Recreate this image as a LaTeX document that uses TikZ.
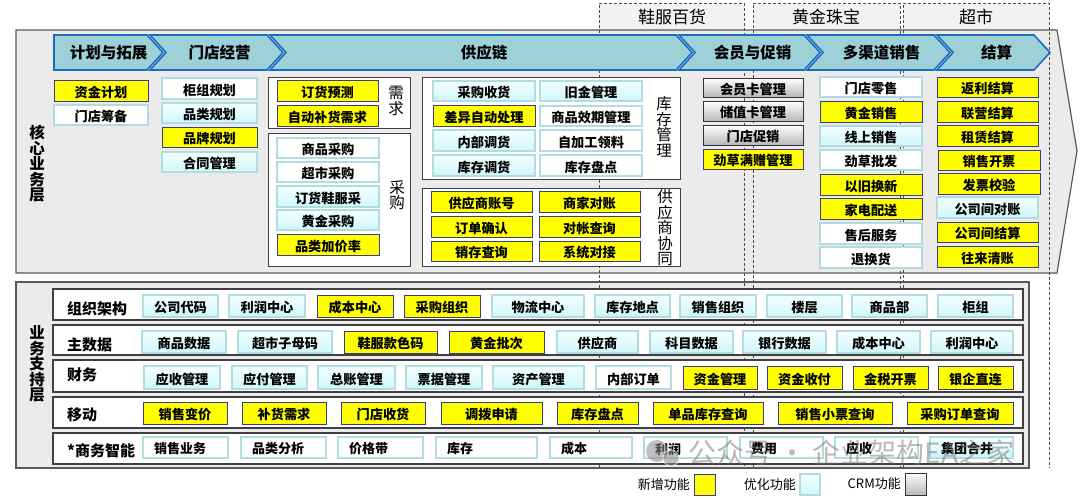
\documentclass[tikz,border=0pt]{standalone}
\usepackage{fontspec}
\setmainfont{Noto Sans CJK SC}
\usetikzlibrary{shadows}
\definecolor{newY}{HTML}{FFFF00}
\definecolor{newB}{HTML}{3A3A8C}
\definecolor{optB}{HTML}{B0DCE2}
\definecolor{optT}{HTML}{F4FFFF}
\definecolor{optBot}{HTML}{D0F6FA}
\definecolor{chevF}{HTML}{9ED1D7}
\definecolor{chevB}{HTML}{1C6CC0}
\definecolor{layerF}{HTML}{EBEBEB}
\definecolor{hdrF}{HTML}{F2F2F2}
\tikzset{
 base/.style={inner sep=0pt, outer sep=0pt, font=\fontsize{13.2}{14}\selectfont\bfseries,
   text height=13pt, text depth=0pt,
   drop shadow={shadow xshift=1pt,shadow yshift=-1pt,opacity=0.35}},
 newf/.style={base, fill=newY, draw=newB, line width=1pt},
 optf/.style={base, top color=optT, bottom color=optBot, draw=optB, line width=1.6pt},
 plainf/.style={base, fill=white, draw=optB, line width=1.6pt},
 bif/.style={inner sep=0pt, outer sep=0pt, fill=white, draw=optB, line width=1.8pt},
 bioptf/.style={inner sep=0pt, outer sep=0pt, top color=optT, bottom color=optBot, draw=optB, line width=1.8pt},
 crmf/.style={base, top color=white, bottom color=black!28, draw=black!80, line width=1pt},
 grp/.style={inner sep=0pt, outer sep=0pt, draw=black!75, fill=white, line width=1pt},
 rowbox/.style={inner sep=0pt, outer sep=0pt, draw=black!75, fill=white, line width=1.3pt,
   drop shadow={shadow xshift=1pt,shadow yshift=-1pt,opacity=0.3}},
 grplabel/.style={font=\fontsize{15.5}{15.5}\selectfont, align=center, inner sep=0pt},
 layerlabel/.style={font=\fontsize{15.5}{15.5}\selectfont\bfseries, align=center, inner sep=0pt},
 rowlabel/.style={font=\fontsize{15}{15}\selectfont\bfseries, inner sep=0pt, anchor=west},
 bitext/.style={font=\fontsize{13}{14}\selectfont\bfseries, inner sep=0pt, anchor=west},
 chev/.style={fill=chevF, draw=chevB, line width=1.6pt, line join=miter},
 chevtext/.style={font=\fontsize{15.5}{16}\selectfont\bfseries, inner sep=0pt},
 hdrtext/.style={font=\fontsize{17}{18}\selectfont, inner sep=0pt},
 dashline/.style={draw=black!70, line width=0.7pt, dash pattern=on 3pt off 2pt},
 legtext/.style={font=\fontsize{13}{14}\selectfont, inner sep=0pt, anchor=east},
 layer/.style={fill=layerF, draw=black!65, line width=1.2pt}
}
\newcommand\bx[7]{\node[#2, minimum width={(#5-#3)*1pt}, minimum height={(#6-#4)*1pt}] (#1) at ({(#3+#5)/2},{(#4+#6)/2}) {#7};}
\newcommand\bxl[7]{\node[#2, minimum width={(#5-#3)*1pt}, minimum height={(#6-#4)*1pt}] (#1) at ({(#3+#5)/2},{(#4+#6)/2}) {};
 \node[bitext] (#1t) at ([xshift=11pt,yshift=-1.5pt]#1.west) {#7};}
\newcommand\chevA[4]{\draw[chev] (#2,35) -- ({#3-16},35) -- (#3,52.5) -- ({#3-16},70) -- (#2,70) -- cycle;
 \node[chevtext] (#1) at ({(#2+#3)/2},52.5) {#4};}
\newcommand\chevB[4]{\draw[chev] (#2,35) -- ({#3-16},35) -- (#3,52.5) -- ({#3-16},70) -- (#2,70) -- ({#2+16},52.5) -- cycle;
 \node[chevtext] (#1) at ({(#2+#3)/2+3},52.5) {#4};}
\begin{document}
\begin{tikzpicture}[x=1pt,y=-1pt]
\useasboundingbox (0,0) rectangle (1080,499);
% header column boxes
\fill[hdrF] (599,3) rectangle (744,30);
\fill[hdrF] (753,3) rectangle (900,30);
\fill[hdrF] (903,3) rectangle (1049,30);
% layers
\draw[layer] (16,30) -- (1057,30) -- (1077,151) -- (1057,273) -- (16,273) -- cycle;
\draw[layer] (16,282) rectangle (1029,468);
% dashed columns
\draw[dashline] (599,468) -- (599,3) -- (744,3) -- (744,468);
\draw[dashline] (753,468) -- (753,3) -- (900,3) -- (900,468);
\draw[dashline] (903,468) -- (903,3) -- (1049,3) -- (1049,468);
\node[hdrtext] (h1) at (672,17) {鞋服百货};
\node[hdrtext] (h2) at (826,17) {黄金珠宝};
\node[hdrtext] (h3) at (976,17) {超市};
% chevrons
\chevA{c1}{54}{163}{计划与拓展}
\chevB{c2}{150}{283}{门店经营}
\chevB{c3}{270}{692}{供应链}
\chevB{c4}{679}{820}{会员与促销}
\chevB{c5}{807}{950}{多渠道销售}
\chevB{c6}{937}{1050}{结算}
% layer labels
\node[layerlabel] (lcore) at (37,164) {核\\心\\业\\务\\层};
\node[layerlabel] (lsup) at (37,364) {业\\务\\支\\持\\层};
% column 1 and 2
\bx{zjjh}{newf}{54}{80}{148}{101}{资金计划}
\bx{mdcb}{plainf}{54}{105}{148}{125}{门店筹备}
\bx{gzgh}{plainf}{162}{78}{257}{99}{柜组规划}
\bx{plgh}{optf}{162}{103}{257}{123}{品类规划}
\bx{ppgh}{newf}{162}{127}{257}{147}{品牌规划}
\bx{htgl}{optf}{162}{152}{257}{172}{合同管理}
% demand
\bx{gxq}{grp}{268}{77}{410}{128}{}
\bx{dhyc}{newf}{277}{80}{378}{101}{订货预测}
\bx{zdbh}{newf}{277}{105}{378}{126}{自动补货需求}
\node[grplabel] (lxq) at (396,101) {需\\求};
% purchase
\bx{gcg}{grp}{268}{133}{410}{266}{}
\bx{spcg}{plainf}{277}{138}{379}{158}{商品采购}
\bx{cscg}{plainf}{277}{162}{379}{182}{超市采购}
\bx{dhxf}{optf}{277}{186}{379}{207}{订货鞋服采}
\bx{hjcg}{optf}{277}{210}{379}{230}{黄金采购}
\bx{pljj}{newf}{277}{234}{379}{255}{品类加价率}
\node[grplabel] (lcg) at (397,195) {采\\购};
% inventory
\bx{gkc}{grp}{422}{77}{680}{179}{}
\bx{cgsh}{optf}{433}{81}{535}{101}{采购收货}
\bx{cyzd}{newf}{433}{105}{535}{126}{差异自动处理}
\bx{nbdh}{optf}{433}{130}{535}{151}{内部调货}
\bx{kcdh}{optf}{433}{155}{535}{176}{库存调货}
\bx{jjgl}{optf}{540}{81}{642}{101}{旧金管理}
\bx{spxq}{plainf}{540}{106}{642}{126}{商品效期管理}
\bx{zjgl}{plainf}{540}{130}{642}{151}{自加工领料}
\bx{kcpd}{plainf}{540}{155}{642}{176}{库存盘点}
\node[grplabel] (lkc) at (664,127) {库\\存\\管\\理};
% supplier
\bx{ggys}{grp}{422}{188}{680}{266}{}
\bx{gyszh}{newf}{431}{191}{532}{212}{供应商账号}
\bx{sjdz}{newf}{539}{191}{640}{212}{商家对账}
\bx{ddqr}{newf}{431}{216}{532}{237}{订单确认}
\bx{dzcx}{newf}{539}{216}{640}{237}{对帐查询}
\bx{xccx}{newf}{431}{241}{532}{261}{销存查询}
\bx{xtdj}{newf}{539}{241}{640}{261}{系统对接}
\node[grplabel] (lgys) at (665,228) {供\\应\\商\\协\\同};
% membership
\bx{hykgl}{crmf}{703}{78}{803}{97}{会员卡管理}
\bx{czkgl}{crmf}{703}{101}{803}{121}{储值卡管理}
\bx{mdcx}{crmf}{703}{125}{803}{145}{门店促销}
\bx{jcmz}{newf}{703}{149}{803}{169}{劲草满赠管理}
% multichannel
\bx{mdls}{plainf}{820}{77}{922}{97}{门店零售}
\bx{hjxs}{newf}{820}{101}{922}{122}{黄金销售}
\bx{xsxs}{optf}{820}{126}{922}{146}{线上销售}
\bx{jcpf}{plainf}{820}{150}{922}{170}{劲草批发}
\bx{yjhx}{newf}{820}{174}{922}{195}{以旧换新}
\bx{jdps}{newf}{820}{198}{922}{219}{家电配送}
\bx{shfw}{plainf}{820}{223}{922}{244}{售后服务}
\bx{thh}{plainf}{820}{247}{922}{268}{退换货}
% settlement
\bx{fljs}{newf}{937}{77}{1038}{97}{返利结算}
\bx{lyjs}{newf}{937}{101}{1038}{122}{联营结算}
\bx{zljs}{newf}{937}{125}{1038}{146}{租赁结算}
\bx{xskp}{newf}{938}{150}{1040}{170}{销售开票}
\bx{fpjy}{newf}{938}{173}{1040}{194}{发票校验}
\bx{gsjdz}{optf}{937}{197}{1038}{218}{公司间对账}
\bx{gsjjs}{newf}{937}{222}{1038}{242}{公司间结算}
\bx{wlqz}{newf}{937}{246}{1038}{267}{往来清账}
% support rows
\bx{row1}{rowbox}{53}{289}{1023}{320}{}
\bx{row2}{rowbox}{53}{325}{1023}{355}{}
\bx{row3}{rowbox}{53}{360}{1023}{392}{}
\bx{row4}{rowbox}{53}{397}{1023}{428}{}
\bx{row5}{rowbox}{53}{433}{1023}{464}{}
\node[rowlabel] (rl1) at (67,309) {组织架构};
\node[rowlabel] (rl2) at (67,345) {主数据};
\node[rowlabel] (rl3) at (67,375) {财务};
\node[rowlabel] (rl4) at (67,415) {移动};
\node[rowlabel] (rl5) at (67,451) {*商务智能};
% row 1
\bx{a1}{optf}{143}{295}{218}{317}{公司代码}
\bx{a2}{optf}{229}{295}{305}{317}{利润中心}
\bx{a3}{newf}{317}{295}{393}{317}{成本中心}
\bx{a4}{newf}{404}{295}{480}{317}{采购组织}
\bx{a5}{optf}{492}{295}{584}{317}{物流中心}
\bx{a6}{optf}{595}{295}{670}{317}{库存地点}
\bx{a7}{optf}{680}{295}{756}{317}{销售组织}
\bx{a8}{optf}{767}{295}{842}{317}{楼层}
\bx{a9}{optf}{852}{295}{927}{317}{商品部}
\bx{a10}{optf}{938}{295}{1013}{317}{柜组}
% row 2
\bx{b1}{optf}{142}{331}{226}{353}{商品数据}
\bx{b2}{optf}{238}{331}{332}{353}{超市子母码}
\bx{b3}{newf}{344}{331}{437}{353}{鞋服款色码}
\bx{b4}{newf}{449}{331}{544}{353}{黄金批次}
\bx{b5}{optf}{557}{331}{638}{353}{供应商}
\bx{b6}{optf}{650}{331}{733}{353}{科目数据}
\bx{b7}{optf}{743}{331}{826}{353}{银行数据}
\bx{b8}{optf}{837}{331}{920}{353}{成本中心}
\bx{b9}{optf}{931}{331}{1013}{353}{利润中心}
% row 3
\bx{f1}{optf}{144}{366}{220}{389}{应收管理}
\bx{f2}{optf}{232}{366}{307}{389}{应付管理}
\bx{f3}{optf}{318}{366}{395}{389}{总账管理}
\bx{f4}{optf}{406}{366}{482}{389}{票据管理}
\bx{f5}{optf}{493}{366}{584}{389}{资产管理}
\bx{f6}{plainf}{596}{366}{671}{389}{内部订单}
\bx{f7}{newf}{683}{366}{757}{389}{资金管理}
\bx{f8}{newf}{767}{366}{842}{389}{资金收付}
\bx{f9}{newf}{853}{366}{928}{389}{金税开票}
\bx{f10}{newf}{938}{366}{1013}{389}{银企直连}
% row 4
\bx{m1}{newf}{143}{402}{227}{424}{销售变价}
\bx{m2}{newf}{242}{402}{326}{424}{补货需求}
\bx{m3}{newf}{341}{402}{425}{424}{门店收货}
\bx{m4}{newf}{441}{402}{542}{424}{调拨申请}
\bx{m5}{newf}{557}{402}{638}{424}{库存盘点}
\bx{m6}{newf}{653}{402}{763}{424}{单品库存查询}
\bx{m7}{newf}{778}{402}{892}{424}{销售小票查询}
\bx{m8}{newf}{907}{402}{1013}{424}{采购订单查询}
% row 5
\bxl{s1}{bif}{143}{437}{228}{458}{销售业务}
\bxl{s2}{bif}{241}{437}{326}{458}{品类分析}
\bxl{s3}{bif}{338}{437}{423}{458}{价格带}
\bxl{s4}{bif}{436}{437}{537}{458}{库存}
\bxl{s5}{bif}{550}{437}{632}{458}{成本}
\bxl{s6}{bif}{644}{437}{727}{458}{利润}
\bxl{s7}{bif}{740}{437}{823}{458}{费用}
\bxl{s8}{bif}{835}{437}{918}{458}{应收}
\bxl{s9}{bioptf}{930}{437}{1013}{458}{集团合并}
% watermark
\fill[black!45, opacity=0.55] (657,451) circle (11);
\fill[black!45, opacity=0.55, draw=white, line width=1pt] (671,458) circle (8);
\node[font=\fontsize{28}{30}\selectfont, text=black!55, opacity=0.5, inner sep=0pt, anchor=west] (wm) at (688,453) {公众号 · 企业架构EA之家};
% legend
\node[legtext] (lt1) at (690,485) {新增功能};
\bx{lg1}{newf}{694}{474}{715}{495}{}
\node[legtext] (lt2) at (796,485) {优化功能};
\bx{lg2}{optf}{800}{474}{820}{495}{}
\node[legtext] (lt3) at (901,484) {CRM功能};
\bx{lg3}{crmf}{905}{473}{926}{495}{}
\end{tikzpicture}
\end{document}
